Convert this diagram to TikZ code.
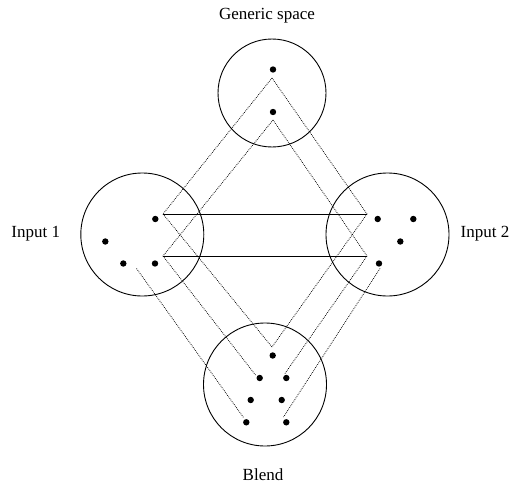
\documentclass[tikz,border=0pt]{standalone}
\usepackage{fontspec}
\setmainfont{Liberation Serif}
\begin{document}
\begin{tikzpicture}[x=1pt,y=-1pt,
  space/.style={circle,draw=black,line width=0.9pt,inner sep=0pt},
  dot/.style={circle,fill=black,inner sep=0pt,minimum size=6.4pt},
  link/.style={line width=0.75pt,dash pattern=on 0.8pt off 1.1pt,black},
  match/.style={line width=0.9pt,black},
  caption/.style={anchor=base,inner sep=0pt,font=\fontsize{17}{20}\selectfont}]
\useasboundingbox (0,0) rectangle (511,487);

% the four mental spaces
\node[space,minimum size=108pt] (generic) at (272,93) {};
\node[space,minimum size=123pt] (input1) at (142.3,234.5) {};
\node[space,minimum size=123pt] (input2) at (387.5,234.5) {};
\node[space,minimum size=123pt] (blend) at (265,384.5) {};

% space names
\node[caption] (tgeneric) at (267,19.5) {Generic space};
\node[caption] (tinput1) at (35.8,237.7) {Input 1};
\node[caption] (tinput2) at (485,237.7) {Input 2};
\node[caption] (tblend) at (263,480) {Blend};

% line ends beside the elements
\coordinate (a1) at (272,78);
\coordinate (a2) at (273,120);
\coordinate (l1) at (163,214);
\coordinate (l2) at (163,256);
\coordinate (r1) at (367,214);
\coordinate (r2) at (367,256);
\coordinate (s4) at (136.5,268.5);
\coordinate (s7) at (380,268.5);
\coordinate (b1) at (272,347);
\coordinate (b2) at (255.5,375);
\coordinate (b3) at (285,373.5);
\coordinate (b6) at (243.5,417.5);
\coordinate (b7) at (283.5,417);

% cross-space mapping
\draw[match] (l1) -- (r1);
\draw[match] (l2) -- (r2);

% projections from the generic space
\draw[link] (a1) -- (l1);
\draw[link] (a1) -- (r1);
\draw[link] (a2) -- (l2);
\draw[link] (a2) -- (r2);

% projections into the blend
\draw[link] (l1) -- (b1);
\draw[link] (r1) -- (b1);
\draw[link] (l2) -- (b2);
\draw[link] (r2) -- (b3);
\draw[link] (s4) -- (b6);
\draw[link] (s7) -- (b7);

% elements
\node[dot] (A1) at (273,69.5) {};
\node[dot] (A2) at (273,112) {};
\node[dot] (L1) at (155.3,219) {};
\node[dot] (L3) at (105.3,241.5) {};
\node[dot] (L4) at (123.3,263.5) {};
\node[dot] (L2) at (155,263.5) {};
\node[dot] (R1) at (377.7,219) {};
\node[dot] (R2) at (413.3,219) {};
\node[dot] (R3) at (400.3,241.5) {};
\node[dot] (R4) at (379,263.5) {};
\node[dot] (B1) at (272.7,355.5) {};
\node[dot] (B2) at (259.7,378) {};
\node[dot] (B3) at (286.3,378) {};
\node[dot] (B4) at (250.7,400) {};
\node[dot] (B5) at (281.7,400) {};
\node[dot] (B6) at (246.3,422.3) {};
\node[dot] (B7) at (286.3,422.3) {};
\end{tikzpicture}
\end{document}
